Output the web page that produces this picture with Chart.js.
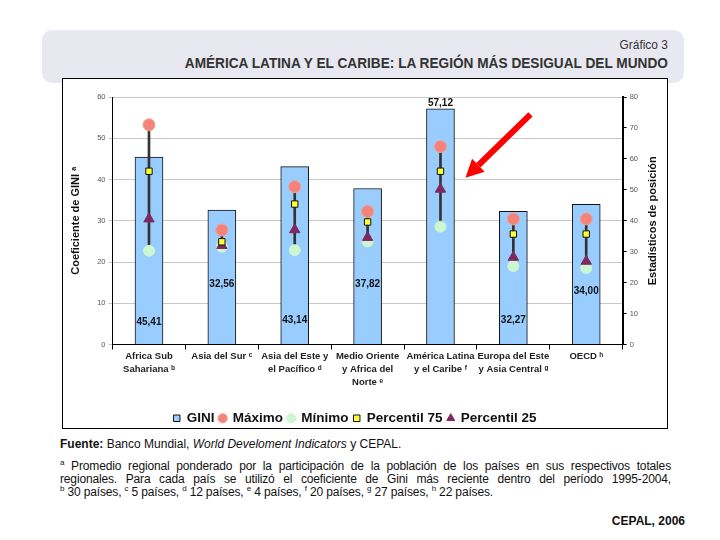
<!DOCTYPE html>
<html>
<head>
<meta charset="utf-8">
<script src="https://cdn.jsdelivr.net/npm/chart.js@4.4.1/dist/chart.umd.min.js"></script>
<style>
  body { margin: 0; width: 720px; height: 540px; background: #fff; position: relative; font-family: "Liberation Sans", Arial, sans-serif; overflow: hidden; }
  #hdr { position: absolute; left: 42px; top: 30px; width: 642px; height: 53px; border-radius: 10px; background: #e8e8f1; }
  #hdr .num { position: absolute; right: 16px; top: 7px; font-size: 13.5px; color: #333; transform: scaleX(0.88); transform-origin: right; }
  #hdr .ttl { position: absolute; right: 16px; top: 24px; font-weight: bold; font-size: 15px; color: #333; white-space: nowrap; transform: scaleX(0.91); transform-origin: right; }
  #frame { position: absolute; left: 62px; top: 78px; width: 604px; height: 349px; border: 1px solid #000; background: #fff; overflow: hidden; }
  #frame canvas { display: block; }
  .src { position: absolute; left: 60px; top: 437px; font-size: 12px; color: #111; }
  .notes { position: absolute; left: 60px; top: 460px; width: 611px; font-size: 12px; line-height: 13px; color: #111; letter-spacing: -0.15px; }
  .notes .j { text-align: justify; text-align-last: justify; }
  .notes sup { font-size: 8px; line-height: 0; }
  .cepal { position: absolute; right: 35px; top: 514px; font-size: 12px; font-weight: bold; color: #111; }
</style>
</head>
<body>
<div id="hdr">
  <div class="num">Gráfico 3</div>
  <div class="ttl">AMÉRICA LATINA Y EL CARIBE: LA REGIÓN MÁS DESIGUAL DEL MUNDO</div>
</div>
<div id="frame"><canvas id="chart" width="604" height="349"></canvas></div>
<div class="src"><b>Fuente:</b> Banco Mundial, <i>World Develoment Indicators</i> y CEPAL.</div>
<div class="notes">
  <div class="j"><sup>a</sup> Promedio regional ponderado por la participación de la población de los países en sus respectivos totales regionales. Para cada país se utilizó el coeficiente de Gini más reciente dentro del período 1995-2004,</div>
  <div><sup>b</sup> 30 países, <sup>c</sup> 5 países, <sup>d</sup> 12 países, <sup>e</sup> 4 países, <sup>f</sup> 20 países, <sup>g</sup> 27 países, <sup>h</sup> 22 países.</div>
</div>
<div class="cepal">CEPAL, 2006</div>
<script>
// categories (multi-line labels)
const regions = [
    ['Africa Sub', 'Sahariana ᵇ'],
    ['Asia del Sur ᶜ'],
    ['Asia del Este y', 'el Pacífico ᵈ'],
    ['Medio Oriente', 'y Africa del', 'Norte ᵉ'],
    ['América Latina', 'y el Caribe ᶠ'],
    ['Europa del Este', 'y Asia Central ᵍ'],
    ['OECD ʰ']
];
// GINI coefficient (left axis)
const gini = [45.41, 32.56, 43.14, 37.82, 57.12, 32.27, 34.00];
// position statistics (right axis)
const maximo = [71, 37, 51, 43, 64, 40.6, 40.6];
const minimo = [30.3, 31.6, 30.5, 33.3, 38.1, 25.3, 24.7];
const p75 = [56, 33.2, 45.4, 39.6, 56, 35.7, 35.7];
const p25 = [40.6, 32, 37.1, 34.6, 50.2, 28.2, 26.9];
// where each GINI value label sits (left axis units)
const labelAt = [5.5, 14.5, 5.8, 14.5, 58.4, 5.8, 13];

const ranges = maximo.map((m, i) => [minimo[i], m]);
const legendOrder = ['GINI', 'Máximo', 'Mínimo', 'Percentil 75', 'Percentil 25'];

const extras = {
    id: 'extras',
    afterDatasetsDraw(chart) {
        const ctx = chart.ctx;
        const x = chart.scales.x, y = chart.scales.y;
        ctx.save();
        // value labels
        ctx.font = 'bold 10px "Liberation Sans", Arial, sans-serif';
        ctx.fillStyle = '#111';
        ctx.textAlign = 'center';
        ctx.textBaseline = 'middle';
        gini.forEach((v, i) => {
            ctx.fillText(v.toFixed(2).replace('.', ','), x.getPixelForValue(i), y.getPixelForValue(labelAt[i]));
        });
        // red arrow pointing at Latin America
        const tipX = x.getPixelForValue(4) + 25, tipY = y.getPixelForValue(40.4);
        const tailX = x.getPixelForValue(4) + 90, tailY = y.getPixelForValue(55.8);
        const ang = Math.atan2(tipY - tailY, tipX - tailX);
        const headLen = 18, headW = 9;
        const bx = tipX - headLen * Math.cos(ang), by = tipY - headLen * Math.sin(ang);
        ctx.strokeStyle = '#ff0000';
        ctx.lineWidth = 6;
        ctx.beginPath();
        ctx.moveTo(tailX, tailY);
        ctx.lineTo(bx, by);
        ctx.stroke();
        ctx.fillStyle = '#ff0000';
        ctx.beginPath();
        ctx.moveTo(tipX, tipY);
        ctx.lineTo(bx + headW * Math.sin(ang), by - headW * Math.cos(ang));
        ctx.lineTo(bx - headW * Math.sin(ang), by + headW * Math.cos(ang));
        ctx.closePath();
        ctx.fill();
        // right axis title, reading bottom to top
        const y1 = chart.scales.y1;
        ctx.font = 'bold 11px "Liberation Sans", Arial, sans-serif';
        ctx.fillStyle = '#111';
        ctx.translate(y1.right + 12, (y1.top + y1.bottom) / 2);
        ctx.rotate(-Math.PI / 2);
        ctx.fillText('Estadísticos de posición', 0, 0);
        ctx.restore();
    }
};

new Chart(document.getElementById('chart'), {
    data: {
        labels: regions,
        datasets: [
            { type: 'line', label: 'Máximo', data: maximo, yAxisID: 'y1', showLine: false, pointStyle: 'circle', pointRadius: 6, pointBackgroundColor: '#f4837a', pointBorderColor: '#f4a090', pointBorderWidth: 1, backgroundColor: '#f4837a', borderColor: '#f4837a', order: 3 },
            { type: 'line', label: 'Mínimo', data: minimo, yAxisID: 'y1', showLine: false, pointStyle: 'circle', pointRadius: 5.5, pointBackgroundColor: '#ccf7d0', pointBorderColor: '#ccf7d0', backgroundColor: '#ccf7d0', borderColor: '#ccf7d0', order: 2 },
            { type: 'line', label: 'Percentil 75', data: p75, yAxisID: 'y1', showLine: false, pointStyle: 'rect', pointRadius: 4.5, pointBackgroundColor: '#ffff33', pointBorderColor: '#111', pointBorderWidth: 1, backgroundColor: '#ffff33', borderColor: '#111', order: 0 },
            { type: 'line', label: 'Percentil 25', data: p25, yAxisID: 'y1', showLine: false, pointStyle: 'triangle', pointRadius: 6, pointBackgroundColor: '#7d2a5f', pointBorderColor: '#7d2a5f', backgroundColor: '#7d2a5f', borderColor: '#7d2a5f', order: 1 },
            { type: 'bar', label: 'rango', data: ranges, yAxisID: 'y1', backgroundColor: '#333', barThickness: 2, grouped: false, order: 4 },
            { type: 'bar', label: 'GINI', data: gini, yAxisID: 'y', backgroundColor: '#99ccff', borderColor: '#111', borderWidth: 1, barThickness: 28, grouped: false, pointStyle: 'rect', order: 5 }
        ]
    },
    options: {
        responsive: false,
        animation: false,
        layout: { padding: { left: 6, right: 26, top: 18, bottom: -7 } },
        plugins: {
            tooltip: { enabled: false },
            legend: {
                position: 'bottom',
                labels: {
                    usePointStyle: true,
                    boxWidth: 6.5,
                    boxHeight: 6.5,
                    padding: 5,
                    color: '#111',
                    font: { family: '"Liberation Sans", Arial, sans-serif', size: 13.5, weight: 'bold' },
                    filter: item => item.text !== 'rango',
                    sort: (a, b) => legendOrder.indexOf(a.text) - legendOrder.indexOf(b.text)
                }
            }
        },
        scales: {
            x: {
                offset: true,
                afterFit: s => { s.height = 62; },
                grid: { offset: true, drawOnChartArea: false, color: '#000', tickLength: 5 },
                border: { color: '#000' },
                ticks: { color: '#222', maxRotation: 0, autoSkip: false, padding: 0, font: { family: '"Liberation Sans", Arial, sans-serif', size: 9.5, weight: 'bold', lineHeight: 1.4 } }
            },
            y: {
                position: 'left',
                min: 0, max: 60,
                ticks: { stepSize: 10, color: '#555', padding: 3, font: { size: 7.5 } },
                grid: { color: '#c8c8c8', tickLength: 4 },
                border: { color: '#000' },
                title: { display: true, text: 'Coeficiente de GINI ᵃ', color: '#111', padding: { top: 0, bottom: 12 }, font: { family: '"Liberation Sans", Arial, sans-serif', size: 11, weight: 'bold' } }
            },
            y1: {
                position: 'right',
                min: 0, max: 80,
                ticks: { stepSize: 10, color: '#555', padding: 3, font: { size: 7.5 } },
                grid: { drawOnChartArea: false, color: '#000', tickLength: 4 },
                border: { color: '#000', width: 2 }
            }
        }
    },
    plugins: [extras]
});
</script>
</body>
</html>
